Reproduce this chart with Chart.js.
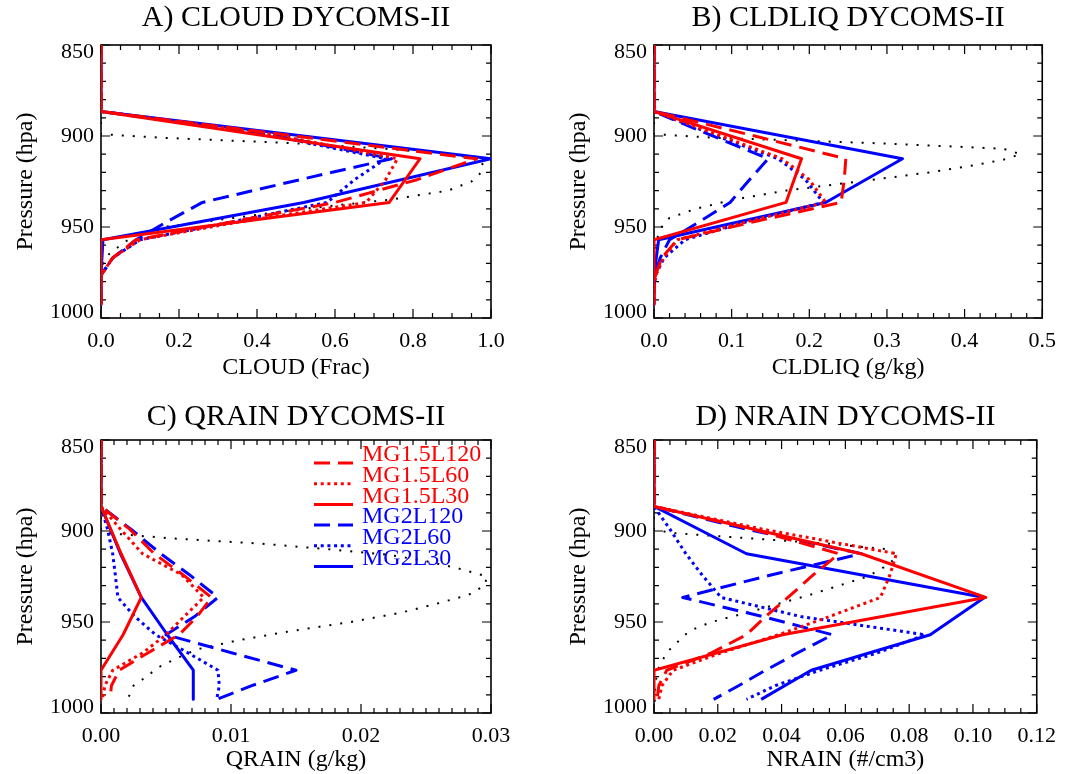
<!DOCTYPE html>
<html>
<head>
<meta charset="utf-8">
<script src="https://cdn.jsdelivr.net/npm/chart.js@4.4.1/dist/chart.umd.min.js"></script>
<style>
  body { margin: 0; background: #fff; }
  #quadro { position: relative; width: 1066px; height: 774px; background: #fff; }
  canvas { position: absolute; }
</style>
</head>
<body>
<div id="quadro">
  <canvas id="painelA" width="533" height="387" style="left:0;top:0"></canvas>
  <canvas id="painelB" width="533" height="387" style="left:533px;top:0"></canvas>
  <canvas id="painelC" width="533" height="387" style="left:0;top:387px"></canvas>
  <canvas id="painelD" width="533" height="387" style="left:533px;top:387px"></canvas>
</div>
<script>
// niveis de pressao (hPa) dos perfis dos modelos e do perfil de referencia
const lev = [850, 886.5, 899, 912.5, 924, 936.5, 947, 957, 967, 976.5, 985, 992.5];
const refLev = [850, 895, 899, 901, 904, 907, 910, 913, 916, 920, 925, 930, 935, 940, 945, 950, 955, 960, 965, 970, 975, 980, 985, 990, 995];

const nomes = ["MG1.5L120", "MG1.5L60", "MG1.5L30", "MG2L120", "MG2L60", "MG2L30"];

// A) CLOUD (fracao)
const cloudMG15L120 = [0, 0, 0.46, 0.963, 0.81, 0.60, 0.34, 0.09, 0.03, 0, 0, 0];
const cloudMG15L60  = [0, 0, 0.44, 0.76, 0.73, 0.68, 0.36, 0.10, 0.03, 0, 0, 0];
const cloudMG15L30  = [0, 0, null, 0.818, null, 0.739, null, 0, null, 0, null, 0];
const cloudMG2L120  = [0, 0, 0.43, 0.745, 0.51, 0.26, 0.17, 0.09, 0.03, 0, 0, 0];
const cloudMG2L60   = [0, 0, 0.42, 0.73, 0.65, 0.58, 0.34, 0.10, 0.03, 0, 0, 0];
const cloudMG2L30   = [0, 0, null, 1.0, null, 0.52, null, 0.005, null, 0, null, 0];
const cloudRef = [0, 0, 0, 0.16, 0.50, 0.73, 0.90, 0.97, 0.98, 0.975, 0.95, 0.89, 0.74, 0.52, 0.34, 0.16, 0.083, 0.05, 0.02, 0.006, 0, 0, 0, 0, 0];

// B) CLDLIQ (g/kg)
const liqMG15L120 = [0, 0, 0.12, 0.247, 0.245, 0.241, 0.13, 0.03, 0.01, 0.002, 0, 0];
const liqMG15L60  = [0, 0, 0.08, 0.165, 0.20, 0.221, 0.12, 0.03, 0.012, 0.002, 0, 0];
const liqMG15L30  = [0, 0, null, 0.19, null, 0.17, null, 0, null, 0, null, 0];
const liqMG2L120  = [0, 0, 0.07, 0.147, 0.123, 0.098, 0.059, 0.02, 0.008, 0.001, 0, 0];
const liqMG2L60   = [0, 0, 0.075, 0.16, 0.195, 0.218, 0.12, 0.04, 0.013, 0.002, 0, 0];
const liqMG2L30   = [0, 0, null, 0.32, null, 0.221, null, 0.006, null, 0, null, 0];
const liqRef = [0, 0, 0, 0.08, 0.29, 0.45, 0.472, 0.45, 0.413, 0.355, 0.264, 0.17, 0.102, 0.054, 0.02, 0.01, 0.005, 0.003, 0.001, 0, 0, 0, 0, 0, 0];

// C) QRAIN (g/kg)
const qrMG15L120 = [0, 0, 0.0022, 0.0041, 0.0063, 0.0085, 0.0074, 0.0060, 0.0036, 0.0014, 0.0008, 0.0007];
const qrMG15L60  = [0, 0, 0.0015, 0.0032, 0.0062, 0.0079, 0.0064, 0.0050, 0.0032, 0.0009, 0.0003, 0.0001];
const qrMG15L30  = [0, 0, null, 0.00155, null, 0.0031, null, 0.0017, null, 0, null, 0];
const qrMG2L120  = [0, 0, 0.0023, 0.0046, 0.0068, 0.0090, 0.0072, 0.0050, 0.0101, 0.0150, 0.0116, 0.0089];
const qrMG2L60   = [0, 0, 0.0005, 0.0009, 0.0011, 0.0013, 0.0026, 0.0042, 0.0067, 0.0090, 0.0091, 0.0089];
const qrMG2L30   = [0, 0, null, 0.0015, null, 0.0031, null, 0.0051, null, 0.0071, null, 0.0071];
const qrRef = [0, 0, 0, 0.0002, 0.0053, 0.0124, 0.0175, 0.0220, 0.0246, 0.0272, 0.0297, 0.0295, 0.0283, 0.0258, 0.0230, 0.0192, 0.0146, 0.0106, 0.0074, 0.0058, 0.0044, 0.0035, 0.0025, 0.0022, 0.0019];

// D) NRAIN (#/cm3)
const nrMG15L120 = [0, 0, 0.031, 0.058, 0.050, 0.042, 0.035, 0.029, 0.018, 0.004, 0.0015, 0.001];
const nrMG15L60  = [0, 0, 0.034, 0.076, 0.074, 0.071, 0.055, 0.039, 0.021, 0.006, 0.0025, 0.0015];
const nrMG15L30  = [0, 0, null, 0.065, null, 0.104, null, 0.0403, null, 0, null, 0];
const nrMG2L120  = [0, 0, 0.029, 0.065, 0.037, 0.009, 0.034, 0.056, 0.045, 0.035, 0.0265, 0.0187];
const nrMG2L60   = [0, 0, 0.005, 0.010, 0.015, 0.021, 0.046, 0.085, 0.070, 0.052, 0.038, 0.029];
const nrMG2L30   = [0, 0, null, 0.029, null, 0.1036, null, 0.0866, null, 0.0493, null, 0.0336];
const nrRef = [0, 0, 0, 0.005, 0.030, 0.055, 0.073, 0.076, 0.075, 0.072, 0.067, 0.058, 0.049, 0.039, 0.029, 0.018, 0.011, 0.008, 0.005, 0.003, 0.0015, 0.0008, 0.0004, 0.0003, 0.0002];

const fonte = "'Liberation Serif', 'Times New Roman', serif";
Chart.defaults.font.family = fonte;
Chart.defaults.color = '#000';
Chart.defaults.animation = false;

const cores = ['#ff0000', '#ff0000', '#ff0000', '#0000ff', '#0000ff', '#0000ff'];
const tracos = [[16, 8], [3, 3.7], [], [16, 8], [3, 3.7], []];

function perfil(niveis, vals) {
  const pts = [];
  niveis.forEach((p, i) => {
    if (vals[i] !== null) pts.push({ x: vals[i], y: p });
  });
  return pts;
}

// caixa com marcas de escala para dentro (estilo IDL)
const moldura = {
  id: 'moldura',
  beforeDraw(chart) {
    // rotulos extremos do eixo de pressao puxados para dentro, como no IDL
    chart.scales.y.getLabelItems().forEach(it => {
      if (it.ajustado) return;
      const t = it.options.translation;
      if (it.label === '850') it.options.translation = [t[0], t[1] + 7];
      if (it.label === '1000') it.options.translation = [t[0], t[1] - 6];
      it.ajustado = true;
    });
  },
  beforeDatasetsDraw(chart, args, opts) {
    const { ctx, chartArea: a, scales } = chart;
    const sx = scales.x, sy = scales.y;
    ctx.save();
    ctx.strokeStyle = '#000';
    ctx.lineWidth = 1.2;
    ctx.beginPath();
    const nx = Math.round((sx.max - sx.min) / opts.xMinor);
    for (let i = 0; i <= nx; i++) {
      const px = sx.getPixelForValue(sx.min + i * opts.xMinor);
      const len = i % opts.xPer === 0 ? 9 : 5;
      ctx.moveTo(px, a.bottom); ctx.lineTo(px, a.bottom - len);
      ctx.moveTo(px, a.top); ctx.lineTo(px, a.top + len);
    }
    for (let p = 850; p <= 1000; p += 10) {
      const py = sy.getPixelForValue(p);
      const len = p % 50 === 0 ? 9 : 5;
      ctx.moveTo(a.left, py); ctx.lineTo(a.left + len, py);
      ctx.moveTo(a.right, py); ctx.lineTo(a.right - len, py);
    }
    ctx.stroke();
    ctx.lineWidth = 1.6;
    ctx.strokeRect(a.left, a.top, a.right - a.left, a.bottom - a.top);
    ctx.restore();
  }
};

// legenda dentro do painel C
const legenda = {
  id: 'legenda',
  afterDatasetsDraw(chart, args, opts) {
    if (!opts.mostrar) return;
    const { ctx, chartArea: a } = chart;
    ctx.save();
    ctx.font = '24px ' + fonte;
    ctx.textBaseline = 'middle';
    ctx.textAlign = 'left';
    nomes.forEach((nome, i) => {
      const ds = chart.data.datasets[i];
      const y = a.top + 15 + i * 20.7;
      ctx.strokeStyle = ds.borderColor;
      ctx.lineWidth = 3;
      ctx.setLineDash(ds.borderDash);
      ctx.beginPath();
      ctx.moveTo(a.left + 213, y + 8);
      ctx.lineTo(a.left + 252, y + 8);
      ctx.stroke();
      ctx.setLineDash([]);
      ctx.fillStyle = ds.borderColor;
      ctx.fillText(nome, a.left + 261, y);
    });
    ctx.restore();
  }
};

function criarPainel(id, titulo, series, ref, eixoX, emBaixo, aDireita) {
  const datasets = series.map((vals, i) => ({
    label: nomes[i],
    data: perfil(lev, vals),
    borderColor: cores[i],
    borderWidth: 3,
    borderDash: tracos[i],
    borderJoinStyle: 'round'
  }));
  datasets.push({
    label: 'ref',
    data: perfil(refLev, ref),
    borderColor: '#000',
    borderWidth: 2,
    borderDash: [2, 9]
  });
  datasets.forEach(d => { d.showLine = true; d.pointRadius = 0; d.fill = false; });

  new Chart(document.getElementById(id), {
    type: 'scatter',
    data: { datasets },
    plugins: [moldura, legenda],
    options: {
      responsive: false,
      animation: false,
      layout: { padding: { left: aDireita ? 20 : 0, right: aDireita ? 22 : 42, top: 0, bottom: 0 } },
      plugins: {
        legend: { display: false },
        tooltip: { enabled: false },
        title: {
          display: true, text: titulo, fullSize: false, color: '#000',
          font: { size: 30, weight: 'normal', lineHeight: 1.2 },
          padding: emBaixo ? { top: 12.5, bottom: 4.5 } : { top: 0, bottom: 9 }
        },
        moldura: { xMinor: eixoX.minor, xPer: Math.round(eixoX.passo / eixoX.minor) },
        legenda: { mostrar: !!eixoX.legenda }
      },
      scales: {
        x: {
          type: 'linear', min: 0, max: eixoX.max,
          afterFit: s => { s.height = emBaixo ? 61 : 69; },
          grid: { display: false, drawTicks: false },
          border: { display: false },
          ticks: {
            stepSize: eixoX.passo, autoSkip: false, maxRotation: 0, padding: 10,
            font: { size: 22 }, color: '#000',
            callback: v => Number(v).toFixed(eixoX.dec)
          },
          title: {
            display: true, text: eixoX.titulo, color: '#000',
            font: { size: 24 }, padding: { top: 0, bottom: emBaixo ? 0 : 4.6 }
          }
        },
        y: {
          type: 'linear', reverse: true, min: 850, max: 1000,
          afterFit: s => { s.width = 101; },
          grid: { display: false, drawTicks: false },
          border: { display: false },
          ticks: {
            stepSize: 50, autoSkip: false, padding: 7, font: { size: 22 }, color: '#000',
            callback: v => String(v)
          },
          title: {
            display: true, text: 'Pressure (hpa)', color: '#000',
            font: { size: 24 }, padding: { top: 11.6, bottom: 0 }
          }
        }
      }
    }
  });
}

criarPainel('painelA', 'A) CLOUD DYCOMS-II',
  [cloudMG15L120, cloudMG15L60, cloudMG15L30, cloudMG2L120, cloudMG2L60, cloudMG2L30], cloudRef,
  { max: 1.0, passo: 0.2, minor: 0.05, dec: 1, titulo: 'CLOUD (Frac)' }, false, false);

criarPainel('painelB', 'B) CLDLIQ DYCOMS-II',
  [liqMG15L120, liqMG15L60, liqMG15L30, liqMG2L120, liqMG2L60, liqMG2L30], liqRef,
  { max: 0.5, passo: 0.1, minor: 0.02, dec: 1, titulo: 'CLDLIQ (g/kg)' }, false, true);

criarPainel('painelC', 'C) QRAIN DYCOMS-II',
  [qrMG15L120, qrMG15L60, qrMG15L30, qrMG2L120, qrMG2L60, qrMG2L30], qrRef,
  { max: 0.03, passo: 0.01, minor: 0.001, dec: 2, titulo: 'QRAIN (g/kg)', legenda: true }, true, false);

criarPainel('painelD', 'D) NRAIN DYCOMS-II',
  [nrMG15L120, nrMG15L60, nrMG15L30, nrMG2L120, nrMG2L60, nrMG2L30], nrRef,
  { max: 0.12, passo: 0.02, minor: 0.005, dec: 2, titulo: 'NRAIN (#/cm3)' }, true, true);
</script>
</body>
</html>
